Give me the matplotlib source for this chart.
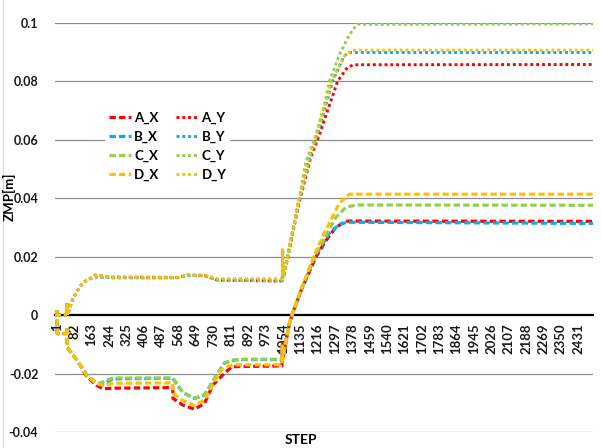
import matplotlib
matplotlib.use("Agg")
import matplotlib.pyplot as plt
from matplotlib.lines import Line2D

# --- data (step, ZMP value in m) ---
N_STEPS = 2500
tick_steps = list(range(1, N_STEPS, 81))

a_x_steps = [1, 2, 47, 48, 49, 100, 140, 185, 216, 263, 541, 542, 588, 643, 689, 728, 782, 813, 837, 1050, 1052, 1054, 1085, 1100, 1140, 1209, 1255, 1300, 1340, 1356, 2500]
a_x_vals = [0.0017, -0.0063, -0.0063, -0.0045, -0.011, -0.016, -0.021, -0.024, -0.0252, -0.025, -0.0248, -0.0285, -0.0308, -0.0322, -0.0302, -0.0239, -0.0199, -0.0179, -0.0176, -0.0174, -0.010, -0.0150, -0.0028, 0.0007, 0.0086, 0.0200, 0.0255, 0.0300, 0.0318, 0.0322, 0.0321]

b_x_steps = [1, 2, 47, 48, 49, 100, 140, 185, 205, 235, 263, 541, 588, 643, 689, 751, 782, 813, 850, 1050, 1052, 1054, 1085, 1100, 1140, 1201, 1270, 1320, 1356, 2500]
b_x_vals = [0.0017, -0.0063, -0.0063, -0.0045, -0.011, -0.016, -0.0205, -0.0233, -0.0238, -0.0228, -0.0218, -0.0216, -0.0265, -0.0285, -0.0273, -0.0199, -0.0164, -0.0156, -0.0152, -0.0152, -0.010, -0.0135, -0.0028, 0.0007, 0.0086, 0.0198, 0.0280, 0.0312, 0.0318, 0.0314]

c_x_steps = [1, 2, 47, 48, 49, 100, 140, 185, 205, 235, 263, 541, 588, 643, 689, 751, 782, 813, 850, 1050, 1052, 1054, 1085, 1100, 1140, 1201, 1261, 1302, 1348, 1395, 2500]
c_x_vals = [0.0017, -0.0063, -0.0063, -0.0045, -0.011, -0.016, -0.0205, -0.0232, -0.0232, -0.0222, -0.0215, -0.0215, -0.0265, -0.0285, -0.0273, -0.0199, -0.0164, -0.0155, -0.0151, -0.0151, -0.010, -0.0135, -0.0028, 0.0007, 0.0088, 0.0202, 0.0280, 0.0335, 0.0369, 0.0377, 0.0376]

d_x_steps = [1, 2, 47, 48, 49, 100, 140, 185, 216, 263, 541, 542, 588, 643, 689, 767, 800, 830, 1050, 1052, 1054, 1085, 1100, 1140, 1201, 1247, 1317, 1364, 2500]
d_x_vals = [0.0017, -0.0063, -0.0063, -0.0045, -0.011, -0.016, -0.0207, -0.0235, -0.0240, -0.0233, -0.0232, -0.0268, -0.0292, -0.0310, -0.0290, -0.0187, -0.0174, -0.0170, -0.0170, -0.010, -0.0150, -0.0026, 0.0009, 0.0090, 0.0205, 0.0280, 0.0382, 0.0414, 0.0414]

a_y_steps = [1, 2, 47, 48, 50, 77, 122, 155, 178, 260, 564, 610, 689, 750, 1050, 1052, 1053, 1055, 1061, 1128, 1186, 1216, 1309, 1356, 1387, 2500]
a_y_vals = [0.0017, 0.0, 0.0, 0.004, 0.0, 0.006, 0.0112, 0.0125, 0.0137, 0.0130, 0.0129, 0.0137, 0.0136, 0.0120, 0.0117, 0.0117, 0.0225, 0.0130, 0.0140, 0.0380, 0.0545, 0.0600, 0.0800, 0.0849, 0.0857, 0.0858]

b_y_steps = [1, 2, 47, 48, 50, 77, 122, 155, 178, 260, 564, 610, 689, 750, 1050, 1052, 1053, 1055, 1061, 1128, 1186, 1208, 1286, 1340, 1364, 2500]
b_y_vals = [0.0017, 0.0, 0.0, 0.004, 0.0, 0.006, 0.0112, 0.0124, 0.0130, 0.0128, 0.0128, 0.0136, 0.0135, 0.0120, 0.0117, 0.0117, 0.0225, 0.0130, 0.0145, 0.0390, 0.0560, 0.0600, 0.0800, 0.0888, 0.0899, 0.0899]

c_y_steps = [1, 2, 47, 48, 50, 77, 122, 155, 178, 260, 564, 610, 689, 750, 1050, 1052, 1053, 1055, 1061, 1128, 1162, 1201, 1247, 1271, 1317, 1356, 1379, 1402, 2500]
c_y_vals = [0.0017, 0.0, 0.0, 0.004, 0.0, 0.006, 0.0112, 0.0124, 0.0130, 0.0128, 0.0128, 0.0136, 0.0135, 0.0120, 0.0117, 0.0117, 0.0225, 0.0130, 0.0145, 0.0390, 0.0527, 0.0600, 0.0718, 0.0800, 0.0890, 0.0948, 0.0976, 0.0995, 0.0997]

d_y_steps = [1, 2, 47, 48, 50, 77, 122, 155, 178, 260, 564, 610, 689, 750, 1050, 1052, 1053, 1055, 1061, 1128, 1186, 1205, 1280, 1345, 1379, 2500]
d_y_vals = [0.0017, 0.0, 0.0, 0.004, 0.0, 0.006, 0.0112, 0.0125, 0.0136, 0.0130, 0.0130, 0.0138, 0.0137, 0.0125, 0.0125, 0.0125, 0.0225, 0.0135, 0.0145, 0.0390, 0.0560, 0.0600, 0.0800, 0.0890, 0.0907, 0.0907]

series_names = ["A_X", "B_X", "C_X", "D_X", "A_Y", "B_Y", "C_Y", "D_Y"]
series_steps = [a_x_steps, b_x_steps, c_x_steps, d_x_steps, a_y_steps, b_y_steps, c_y_steps, d_y_steps]
series_vals = [a_x_vals, b_x_vals, c_x_vals, d_x_vals, a_y_vals, b_y_vals, c_y_vals, d_y_vals]
colors = ["#FF0000", "#00B0F0", "#92D050", "#FFC000"] * 2

y_ticks = [-0.04, -0.02, 0, 0.02, 0.04, 0.06, 0.08, 0.1]
y_labels = ["-0.04", "-0.02", "0", "0.02", "0.04", "0.06", "0.08", "0.1"]

plt.rcParams['font.family'] = ['Lato', 'DejaVu Sans']
plt.rcParams['font.weight'] = 'bold'

W, H = 601, 448
fig = plt.figure(figsize=(W / 100, H / 100), dpi=100)
ax = fig.add_axes([55 / W, 1 - 432 / H, (593 - 55) / W, (432 - 23) / H])

# axis line crosses at zero (set before the tick labels, it resets the ticks)
for side in ['left', 'right', 'top']:
    ax.spines[side].set_visible(False)
ax.spines['bottom'].set_position(('data', 0))
ax.spines['bottom'].set_linewidth(1.6)
ax.spines['bottom'].set_color('black')
ax.spines['bottom'].set_zorder(1)

lines = []
for i in range(8):
    if i < 4:
        ln, = ax.plot(series_steps[i], series_vals[i], color=colors[i], lw=2.3,
                      dashes=(2, 1), dash_capstyle='butt', label=series_names[i])
    else:
        ln, = ax.plot(series_steps[i], series_vals[i], color=colors[i], lw=2.1,
                      dashes=(1, 1), dash_capstyle='butt', label=series_names[i])
    lines.append(ln)

ax.set_xlim(-8, N_STEPS)
ax.set_ylim(-0.04, 0.1)

# gridlines (skip zero, the axis line sits there)
for v in y_ticks:
    if v != 0:
        ax.axhline(v, color='#8C8C8C', lw=0.9, zorder=0)

ax.set_yticks(y_ticks)
ax.set_yticklabels(y_labels)
ax.set_xticks(tick_steps)
ax.set_xticklabels([str(s) for s in tick_steps])

ax.tick_params(axis='y', length=0, pad=12, labelsize=9, colors='#1a1a1a')
ax.tick_params(axis='x', length=0, pad=6, labelsize=9.5, colors='#1a1a1a', labelrotation=90)

fig.text(301 / W, 1 - 440 / H, "STEP", ha='center', va='center', fontsize=10, fontweight='bold')
fig.text(9 / W, 1 - 197 / H, "ZMP[m]", ha='center', va='center', rotation=90, fontsize=9.5, fontweight='bold')

leg = ax.legend(handles=lines, ncol=2, loc='upper left',
                bbox_to_anchor=(105 / W, 1 - 108 / H), bbox_transform=fig.transFigure,
                frameon=True, fancybox=False, edgecolor='none', facecolor='white', framealpha=1,
                fontsize=9.5, handlelength=1.7, handletextpad=0.2, columnspacing=1.3,
                labelspacing=0.5, borderpad=0.3, borderaxespad=0)

# light chart border on the left
fig.add_artist(Line2D([3 / W, 3 / W], [0, 1], color='#D9D9D9', lw=0.8))

fig.savefig("out.png", dpi=100)
